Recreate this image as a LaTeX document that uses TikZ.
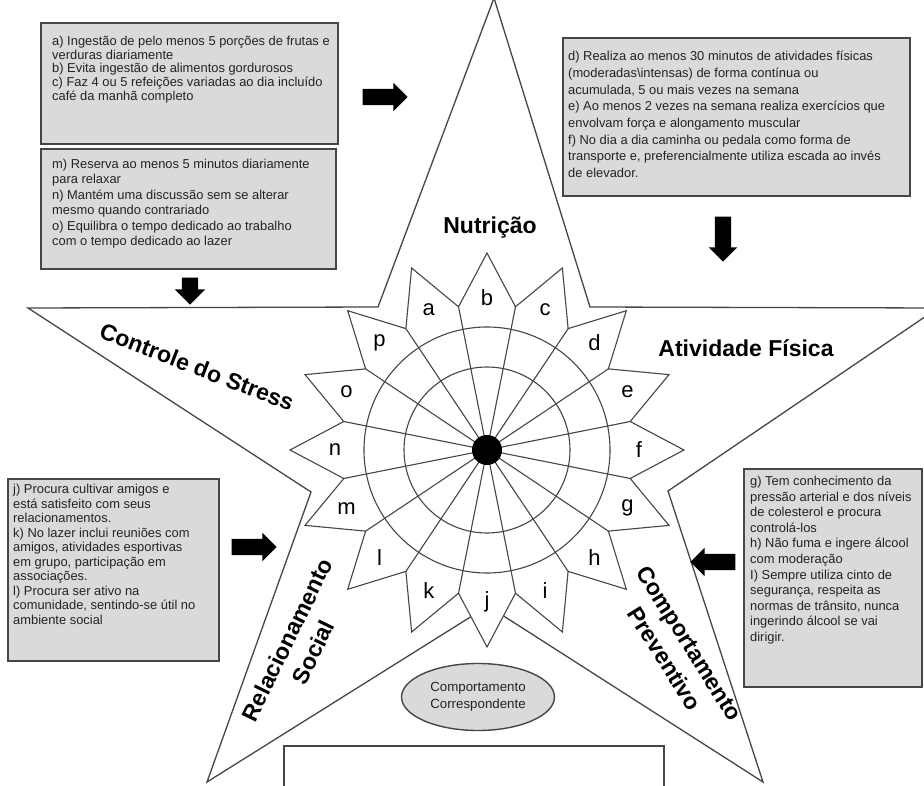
\documentclass[tikz,border=0pt]{standalone}
\usepackage{fontspec}
\setmainfont{Liberation Sans}
\usetikzlibrary{shapes.geometric,shapes.arrows,positioning}

\definecolor{boxgray}{RGB}{218,218,218}
\definecolor{edgegray}{RGB}{70,70,70}
\definecolor{inkgray}{RGB}{35,35,35}

\begin{document}
\begin{tikzpicture}[x=1pt,y=-1pt,
    itemtext/.style={align=left,inner sep=0pt,font=\fontsize{12.9}{#1}\selectfont}]
\tikzstyle{every node}=[text=inkgray]
\tikzstyle{itembox}=[draw=edgegray,fill=boxgray,line width=1.6pt,anchor=north west,inner sep=0pt]
\tikzstyle{heavyarrow}=[single arrow,fill=black,inner xsep=0pt,inner ysep=8pt,single arrow head extend=6pt,minimum height=45pt]
\tikzstyle{theme}=[font=\fontsize{23}{29}\selectfont\bfseries,text=black,align=center]
\tikzstyle{petal}=[font=\fontsize{22}{22}\selectfont,text=black]
\useasboundingbox (0,0) rectangle (924,786);
\clip (0,0) rectangle (924,786);
\fill[white] (0,0) rectangle (924,786);

% big star
\coordinate (T) at (494,-2);
\coordinate (TRi) at (590,307);
\coordinate (R) at (938,308);
\coordinate (BRi) at (668,491);
\coordinate (BR) at (763,782);
\coordinate (Bi) at (488,606);
\coordinate (BL) at (207,782);
\coordinate (BLi) at (311,492);
\coordinate (L) at (28,308);
\coordinate (TLi) at (378,307);
\draw[edgegray,line width=1.3pt] (T) -- (TRi) -- (R) -- (BRi) -- (BR) -- (Bi) -- (BL) -- (BLi) -- (L) -- (TLi) -- cycle;

% rosette
\coordinate (C) at (487,450);
\begin{scope}[shift={(C)},edgegray,line width=1.1pt]
  \draw[fill=white] (-112.5:197) \foreach \i in {0,...,15}{ -- (-101.25+22.5*\i:146) -- (-90+22.5*\i:197)} -- cycle;
  \foreach \i in {0,...,15} \draw (0,0) -- (-101.25+22.5*\i:146);
  \draw (0,0) circle (83) (0,0) circle (123);
  \fill[black] (0,0) circle (15);
  \foreach \lt [count=\i from 0] in {a,b,c,d,e,f,g,h,i,j,k,l,m,n,o,p}
    \node[petal] (pet\lt) at (-112.5+22.5*\i:152) {\lt};
\end{scope}

% themes
\node[theme] (nutri) at (490,228) {Nutrição};
\node[theme] (ativ) at (746,348) {Atividade Física};
\node[theme,rotate=-21] (stress) at (197,367) {Controle do Stress};
\node[theme,rotate=64] (social) at (300,646) {Relacionamento\\Social};
\node[theme,rotate=-58] (prev) at (677,651) {Comportamento\\Preventivo};

% boxes
\node[itembox,minimum width=297pt,minimum height=121pt] (abox) at (40,22) {};
\node[itemtext=13.8,below right=13.8pt and 12pt of abox.north west] (atext)
  {a) Ingestão de pelo menos 5 porções de frutas e\\verduras diariamente\\b) Evita ingestão de alimentos gordurosos\\c) Faz 4 ou 5 refeições variadas ao dia incluído\\café da manhã completo};

\node[itembox,minimum width=347pt,minimum height=158pt] (dbox) at (562,37) {};
\node[itemtext=16.7,below right=14pt and 6pt of dbox.north west] (dtext)
  {d) Realiza ao menos 30 minutos de atividades físicas\\(moderadas\textbackslash intensas) de forma contínua ou\\acumulada, 5 ou mais vezes na semana\\e) Ao menos 2 vezes na semana realiza exercícios que\\envolvam força e alongamento muscular\\f) No dia a dia caminha ou pedala como forma de\\transporte e, preferencialmente utiliza escada ao invés\\de elevador.};

\node[itembox,minimum width=295pt,minimum height=120pt] (mbox) at (40,148) {};
\node[itemtext=15.4,below right=11pt and 12pt of mbox.north west] (mtext)
  {m) Reserva ao menos 5 minutos diariamente\\para relaxar\\n) Mantém uma discussão sem se alterar\\mesmo quando contrariado\\o) Equilibra o tempo dedicado ao trabalho\\com o tempo dedicado ao lazer};

\node[itembox,minimum width=211pt,minimum height=182pt] (jbox) at (7,478) {};
\node[itemtext=14.5,below right=6pt and 6pt of jbox.north west] (jtext)
  {j) Procura cultivar amigos e\\está satisfeito com seus\\relacionamentos.\\ k) No lazer inclui reuniões com\\amigos, atividades esportivas\\em grupo, participação em\\associações.\\l) Procura ser ativo na\\comunidade, sentindo-se útil no\\ambiente social};

\node[itembox,minimum width=178pt,minimum height=218pt] (gbox) at (743,468) {};
\node[itemtext=15.6,below right=8pt and 7pt of gbox.north west] (gtext)
  {g) Tem conhecimento da\\pressão arterial e dos níveis\\de colesterol e procura\\controlá-los\\h) Não fuma e ingere álcool\\com moderação\\I) Sempre utiliza cinto de\\segurança, respeita as\\normas de trânsito, nunca\\ingerindo álcool se vai\\dirigir.};

% arrows
\node[heavyarrow] (arra) at (381,97) {};
\node[heavyarrow,rotate=-90] (arrd) at (723,235) {};
\node[heavyarrow,rotate=-90,minimum height=27pt,single arrow head extend=7pt] (arrm) at (190,287) {};
\node[heavyarrow] (arrj) at (250,547) {};
\node[heavyarrow,rotate=180] (arrg) at (717,562) {};

% bottom
\node[ellipse,draw=edgegray,fill=boxgray,line width=1.4pt,minimum width=153pt,minimum height=67pt,inner sep=0pt,align=center,font=\fontsize{13.3}{17}\selectfont] (corresp) at (478,697) {Comportamento\\Correspondente};
\node[draw=edgegray,fill=white,line width=1.6pt,anchor=north west,minimum width=380pt,minimum height=70pt] (blank) at (283,745) {};
\end{tikzpicture}
\end{document}
